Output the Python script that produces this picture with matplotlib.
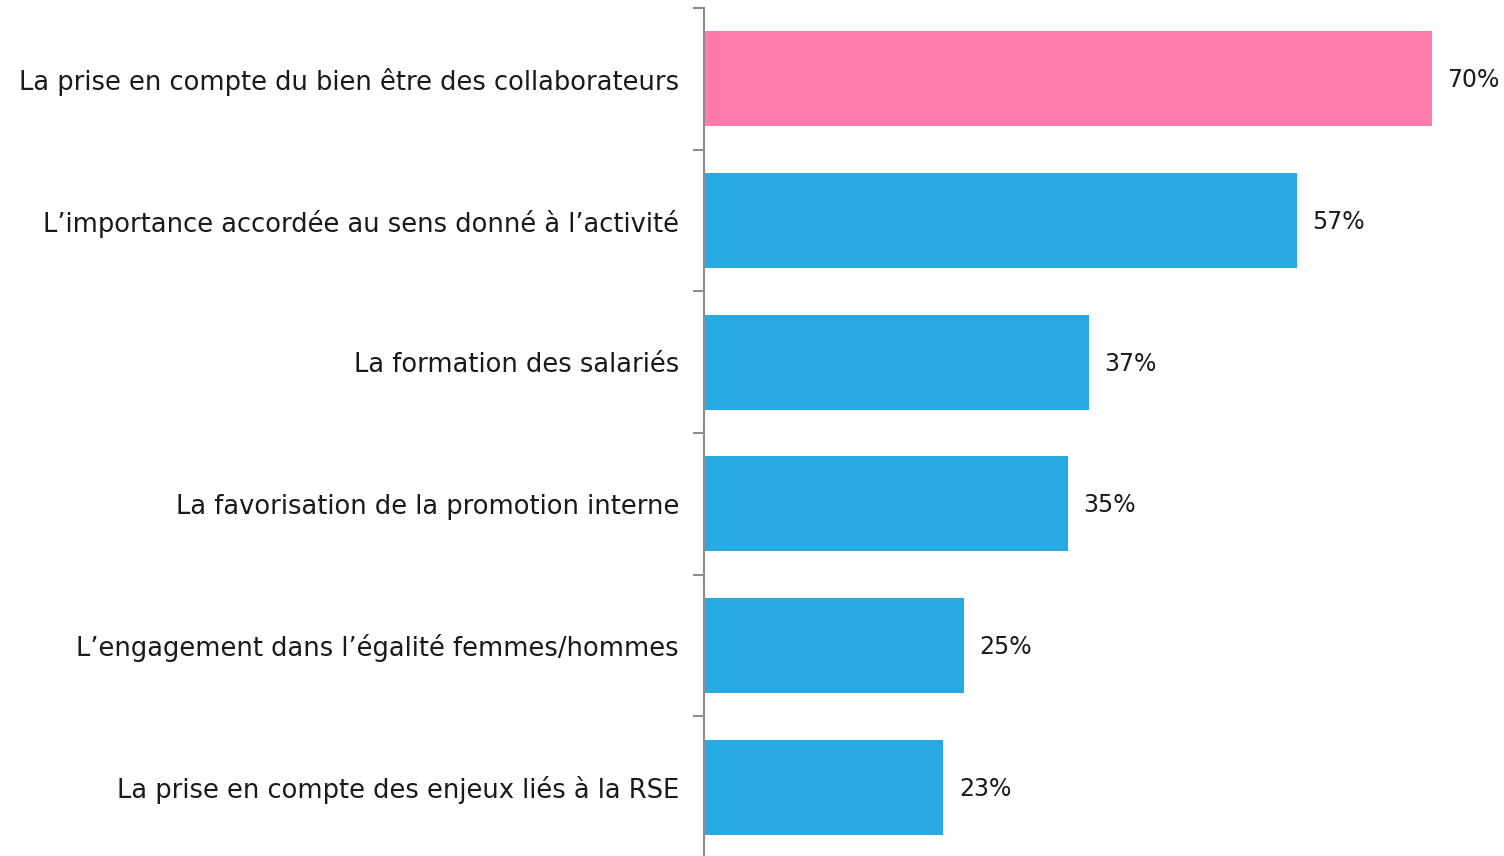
import matplotlib
matplotlib.use("Agg")
import matplotlib.pyplot as plt

categories = [
    "La prise en compte du bien être des collaborateurs",
    "L\u2019importance accordée au sens donné à l\u2019activité",
    "La formation des salariés",
    "La favorisation de la promotion interne",
    "L\u2019engagement dans l\u2019égalité femmes/hommes",
    "La prise en compte des enjeux liés à la RSE",
]
values = [70, 57, 37, 35, 25, 23]
value_labels = ["70%", "57%", "37%", "35%", "25%", "23%"]
colors = ["#FF7BAC", "#29A9E1", "#29A9E1", "#29A9E1", "#29A9E1", "#29A9E1"]

plt.rcParams['font.family'] = ['DejaVu Sans']

W, H = 1504, 856
fig = plt.figure(figsize=(W / 100, H / 100), dpi=100)
ax = fig.add_axes([704 / W, (H - 858) / H, 800 / W, 850 / H])

n = len(categories)
ypos = list(range(n))
ax.barh(ypos, values, height=0.67, color=colors, zorder=2)
ax.set_ylim(n - 0.5, -0.5)
ax.set_xlim(0, 800 / 10.4)

for y, v, lab in zip(ypos, values, value_labels):
    ax.text(v + 1.5, y + 0.01, lab, va="center", ha="left", fontsize=17, color="#1a1a1a")

ax.set_yticks([i + 0.5 for i in range(-1, n)])
ax.set_yticklabels([])
ax.set_yticks(ypos, minor=True)
ax.set_yticklabels(categories, minor=True, fontsize=18.5, color="#1a1a1a")
ax.tick_params(axis="y", which="major", length=8, width=1.5, color="#8c8c8c", direction="out")
ax.tick_params(axis="y", which="minor", length=0, pad=18)
ax.set_xticks([])
for s in ["top", "right", "bottom"]:
    ax.spines[s].set_visible(False)
ax.spines["left"].set_color("#8c8c8c")
ax.spines["left"].set_linewidth(1.5)

fig.savefig("out.png", dpi=100)
